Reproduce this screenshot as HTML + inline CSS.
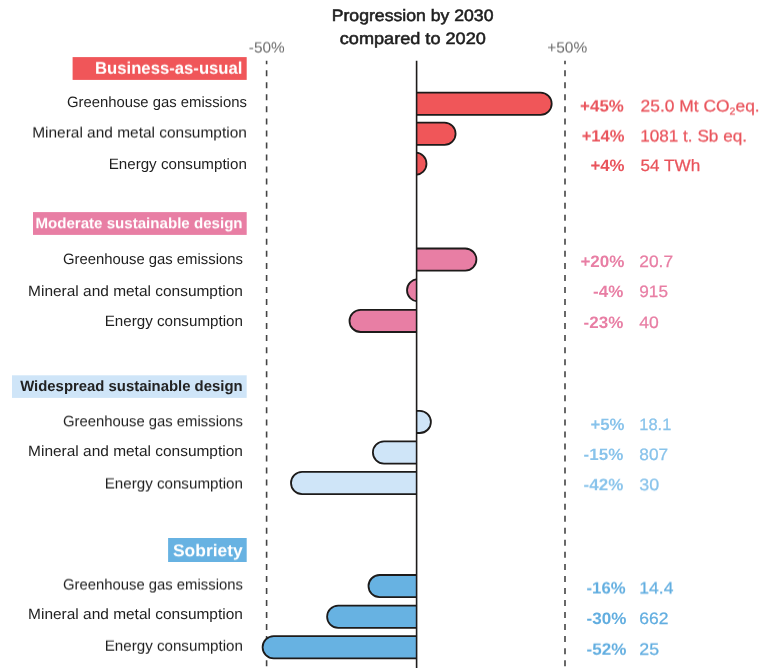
<!DOCTYPE html>
<html lang="en"><head><meta charset="utf-8"><title>Progression by 2030 compared to 2020</title>
<style>html,body{margin:0;padding:0;background:#fff;}body{width:766px;height:668px;overflow:hidden;font-family:"Liberation Sans",sans-serif;}svg{display:block;}text{font-family:"Liberation Sans",sans-serif;text-rendering:geometricPrecision;}</style>
</head><body>
<svg width="766" height="668" viewBox="0 0 766 668">
<defs><filter id="s25" x="-10%" y="-60%" width="120%" height="220%" color-interpolation-filters="sRGB"><feConvolveMatrix order="1 2" kernelMatrix="0.75 0.25" targetX="0" targetY="1" edgeMode="none" preserveAlpha="false"/></filter><filter id="s50" x="-10%" y="-60%" width="120%" height="220%" color-interpolation-filters="sRGB"><feConvolveMatrix order="1 2" kernelMatrix="0.5 0.5" targetX="0" targetY="1" edgeMode="none" preserveAlpha="false"/></filter><filter id="s75" x="-10%" y="-60%" width="120%" height="220%" color-interpolation-filters="sRGB"><feConvolveMatrix order="1 2" kernelMatrix="0.25 0.75" targetX="0" targetY="1" edgeMode="none" preserveAlpha="false"/></filter><clipPath id="cr"><rect x="416.6" y="0" width="400" height="668"/></clipPath><clipPath id="cl"><rect x="0" y="0" width="416.6" height="668"/></clipPath></defs>
<rect width="766" height="668" fill="#ffffff"/>
<text x="331.7" y="21" font-size="16.5" fill="#1e1e1e" textLength="161.8" lengthAdjust="spacingAndGlyphs" stroke="#1e1e1e" stroke-width="0.55">Progression by 2030</text>
<text x="339.8" y="44" font-size="16.5" fill="#1e1e1e" textLength="146" lengthAdjust="spacingAndGlyphs" stroke="#1e1e1e" stroke-width="0.55">compared to 2020</text>
<text x="248.8" y="52" font-size="15" fill="#6c6c6c" textLength="35.9" lengthAdjust="spacingAndGlyphs" filter="url(#s50)">-50%</text>
<text x="547.2" y="52" font-size="15" fill="#6c6c6c" textLength="40" lengthAdjust="spacingAndGlyphs" filter="url(#s50)">+50%</text>
<line x1="266.6" y1="60.8" x2="266.6" y2="668" stroke="#444444" stroke-width="1.6" stroke-dasharray="6 6.04" stroke-dashoffset="2.6"/>
<line x1="565" y1="60.8" x2="565" y2="668" stroke="#444444" stroke-width="1.6" stroke-dasharray="6 6.04" stroke-dashoffset="2.6"/>
<rect x="376.6" y="92.7" width="175.1" height="22.2" rx="11.1" ry="11.1" fill="#f05659" stroke="#1d1b1a" stroke-width="1.8" clip-path="url(#cr)"/>
<rect x="376.6" y="122.7" width="79" height="22.2" rx="11.1" ry="11.1" fill="#f05659" stroke="#1d1b1a" stroke-width="1.8" clip-path="url(#cr)"/>
<rect x="376.6" y="152.7" width="49.9" height="22.2" rx="11.1" ry="11.1" fill="#f05659" stroke="#1d1b1a" stroke-width="1.8" clip-path="url(#cr)"/>
<rect x="376.6" y="248.5" width="99.8" height="22.2" rx="11.1" ry="11.1" fill="#e87ea4" stroke="#1d1b1a" stroke-width="1.8" clip-path="url(#cr)"/>
<rect x="407" y="279.1" width="49.6" height="22.2" rx="11.1" ry="11.1" fill="#e87ea4" stroke="#1d1b1a" stroke-width="1.8" clip-path="url(#cl)"/>
<rect x="349.5" y="309.8" width="107.1" height="22.2" rx="11.1" ry="11.1" fill="#e87ea4" stroke="#1d1b1a" stroke-width="1.8" clip-path="url(#cl)"/>
<rect x="376.6" y="410.8" width="54.3" height="22.2" rx="11.1" ry="11.1" fill="#cfe5f8" stroke="#1d1b1a" stroke-width="1.8" clip-path="url(#cr)"/>
<rect x="372.9" y="441.4" width="83.7" height="22.2" rx="11.1" ry="11.1" fill="#cfe5f8" stroke="#1d1b1a" stroke-width="1.8" clip-path="url(#cl)"/>
<rect x="291" y="471.9" width="165.6" height="22.2" rx="11.1" ry="11.1" fill="#cfe5f8" stroke="#1d1b1a" stroke-width="1.8" clip-path="url(#cl)"/>
<rect x="368.5" y="575" width="88.1" height="22.2" rx="11.1" ry="11.1" fill="#67b2e2" stroke="#1d1b1a" stroke-width="1.8" clip-path="url(#cl)"/>
<rect x="327.1" y="605.7" width="129.5" height="22.2" rx="11.1" ry="11.1" fill="#67b2e2" stroke="#1d1b1a" stroke-width="1.8" clip-path="url(#cl)"/>
<rect x="262.6" y="636.2" width="194" height="22.2" rx="11.1" ry="11.1" fill="#67b2e2" stroke="#1d1b1a" stroke-width="1.8" clip-path="url(#cl)"/>
<line x1="416.6" y1="60.8" x2="416.6" y2="668" stroke="#1d1b1a" stroke-width="1.6"/>
<rect x="72.6" y="57.1" width="174.1" height="22.8" fill="#f05659"/>
<text x="95" y="73" font-size="17" fill="#ffffff" font-weight="bold" textLength="147.5" lengthAdjust="spacingAndGlyphs" filter="url(#s75)">Business-as-usual</text>
<text x="66.9" y="107" font-size="15" fill="#1e1e1e" textLength="179.95" lengthAdjust="spacingAndGlyphs">Greenhouse gas emissions</text>
<text x="580.1" y="111" font-size="16.5" fill="#e9545c" font-weight="bold" textLength="43.8" lengthAdjust="spacingAndGlyphs" filter="url(#s50)">+45%</text>
<text x="640.6" y="111" font-size="16.5" fill="#e9545c" textLength="119.1" lengthAdjust="spacingAndGlyphs" stroke="#e9545c" stroke-width="0.25" filter="url(#s50)">25.0 Mt CO<tspan font-size="10" dy="2.5">2</tspan><tspan dy="-2.5">eq.</tspan></text>
<text x="32.2" y="137" font-size="15" fill="#1e1e1e" textLength="214.65" lengthAdjust="spacingAndGlyphs" filter="url(#s50)">Mineral and metal consumption</text>
<text x="581.7" y="141" font-size="16.5" fill="#e9545c" font-weight="bold" textLength="42.9" lengthAdjust="spacingAndGlyphs" filter="url(#s50)">+14%</text>
<text x="640.2" y="141" font-size="16.5" fill="#e9545c" textLength="106.8" lengthAdjust="spacingAndGlyphs" stroke="#e9545c" stroke-width="0.25" filter="url(#s50)">1081 t. Sb eq.</text>
<text x="108.7" y="169" font-size="15" fill="#1e1e1e" textLength="138.15" lengthAdjust="spacingAndGlyphs">Energy consumption</text>
<text x="590.4" y="171" font-size="16.5" fill="#e9545c" font-weight="bold" textLength="34.2" lengthAdjust="spacingAndGlyphs">+4%</text>
<text x="640.6" y="171" font-size="16.5" fill="#e9545c" textLength="59.6" lengthAdjust="spacingAndGlyphs" stroke="#e9545c" stroke-width="0.25">54 TWh</text>
<rect x="33" y="212.1" width="213.7" height="22.8" fill="#e87ea4"/>
<text x="35.4" y="228" font-size="15" fill="#ffffff" font-weight="bold" textLength="207.2" lengthAdjust="spacingAndGlyphs" filter="url(#s25)">Moderate sustainable design</text>
<text x="62.9" y="264" font-size="15" fill="#1e1e1e" textLength="180" lengthAdjust="spacingAndGlyphs">Greenhouse gas emissions</text>
<text x="580.4" y="267" font-size="16.5" fill="#e87ea4" font-weight="bold" textLength="44.1" lengthAdjust="spacingAndGlyphs">+20%</text>
<text x="639.3" y="267" font-size="16.5" fill="#e87ea4" textLength="33.8" lengthAdjust="spacingAndGlyphs" stroke="#e87ea4" stroke-width="0.25">20.7</text>
<text x="28.1" y="296" font-size="15" fill="#1e1e1e" textLength="214.8" lengthAdjust="spacingAndGlyphs">Mineral and metal consumption</text>
<text x="593.1" y="297" font-size="16.5" fill="#e87ea4" font-weight="bold" textLength="30.2" lengthAdjust="spacingAndGlyphs">-4%</text>
<text x="639.3" y="297" font-size="16.5" fill="#e87ea4" textLength="28.7" lengthAdjust="spacingAndGlyphs" stroke="#e87ea4" stroke-width="0.25">915</text>
<text x="104.7" y="326" font-size="15" fill="#1e1e1e" textLength="138.2" lengthAdjust="spacingAndGlyphs">Energy consumption</text>
<text x="583.6" y="328" font-size="16.5" fill="#e87ea4" font-weight="bold" textLength="39.7" lengthAdjust="spacingAndGlyphs">-23%</text>
<text x="639.3" y="328" font-size="16.5" fill="#e87ea4" textLength="19.5" lengthAdjust="spacingAndGlyphs" stroke="#e87ea4" stroke-width="0.25">40</text>
<rect x="12" y="375.3" width="234.7" height="22.6" fill="#cfe5f8"/>
<text x="20.2" y="391" font-size="15" fill="#222222" font-weight="bold" textLength="222.4" lengthAdjust="spacingAndGlyphs">Widespread sustainable design</text>
<text x="62.9" y="426" font-size="15" fill="#1e1e1e" textLength="180" lengthAdjust="spacingAndGlyphs" filter="url(#s25)">Greenhouse gas emissions</text>
<text x="590.4" y="430" font-size="16.5" fill="#88c3eb" font-weight="bold" textLength="34.1" lengthAdjust="spacingAndGlyphs">+5%</text>
<text x="639.3" y="430" font-size="16.5" fill="#88c3eb" textLength="32" lengthAdjust="spacingAndGlyphs" stroke="#88c3eb" stroke-width="0.25">18.1</text>
<text x="28.1" y="456" font-size="15" fill="#1e1e1e" textLength="214.8" lengthAdjust="spacingAndGlyphs">Mineral and metal consumption</text>
<text x="583.6" y="460" font-size="16.5" fill="#88c3eb" font-weight="bold" textLength="39.7" lengthAdjust="spacingAndGlyphs">-15%</text>
<text x="639.3" y="460" font-size="16.5" fill="#88c3eb" textLength="28.8" lengthAdjust="spacingAndGlyphs" stroke="#88c3eb" stroke-width="0.25">807</text>
<text x="104.7" y="488" font-size="15" fill="#1e1e1e" textLength="138.2" lengthAdjust="spacingAndGlyphs" filter="url(#s50)">Energy consumption</text>
<text x="583.6" y="490" font-size="16.5" fill="#88c3eb" font-weight="bold" textLength="39.7" lengthAdjust="spacingAndGlyphs" filter="url(#s25)">-42%</text>
<text x="639.3" y="490" font-size="16.5" fill="#88c3eb" textLength="19.9" lengthAdjust="spacingAndGlyphs" stroke="#88c3eb" stroke-width="0.25" filter="url(#s25)">30</text>
<rect x="168.1" y="538" width="78.6" height="24" fill="#67b2e2"/>
<text x="173" y="556" font-size="17" fill="#ffffff" font-weight="bold" textLength="69.7" lengthAdjust="spacingAndGlyphs" filter="url(#s25)">Sobriety</text>
<text x="62.9" y="589" font-size="15" fill="#1e1e1e" textLength="180" lengthAdjust="spacingAndGlyphs" filter="url(#s50)">Greenhouse gas emissions</text>
<text x="586.5" y="593" font-size="16.5" fill="#62aee0" font-weight="bold" textLength="39.1" lengthAdjust="spacingAndGlyphs" filter="url(#s50)">-16%</text>
<text x="639.3" y="593" font-size="16.5" fill="#62aee0" textLength="34.2" lengthAdjust="spacingAndGlyphs" stroke="#62aee0" stroke-width="0.25" filter="url(#s50)">14.4</text>
<text x="28.1" y="619" font-size="15" fill="#1e1e1e" textLength="214.8" lengthAdjust="spacingAndGlyphs">Mineral and metal consumption</text>
<text x="586.5" y="624" font-size="16.5" fill="#62aee0" font-weight="bold" textLength="39.8" lengthAdjust="spacingAndGlyphs">-30%</text>
<text x="639.3" y="624" font-size="16.5" fill="#62aee0" textLength="29.2" lengthAdjust="spacingAndGlyphs" stroke="#62aee0" stroke-width="0.25">662</text>
<text x="104.7" y="650" font-size="15" fill="#1e1e1e" textLength="138.2" lengthAdjust="spacingAndGlyphs" filter="url(#s75)">Energy consumption</text>
<text x="586.5" y="654" font-size="16.5" fill="#62aee0" font-weight="bold" textLength="39.8" lengthAdjust="spacingAndGlyphs" filter="url(#s75)">-52%</text>
<text x="639.3" y="654" font-size="16.5" fill="#62aee0" textLength="19.8" lengthAdjust="spacingAndGlyphs" stroke="#62aee0" stroke-width="0.25" filter="url(#s75)">25</text>
</svg>
</body></html>
